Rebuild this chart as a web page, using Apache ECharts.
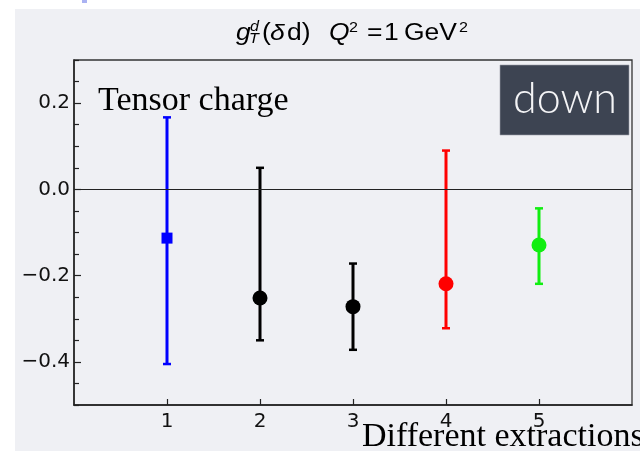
<!DOCTYPE html>
<html>
<head>
<meta charset="utf-8">
<script src="https://cdn.jsdelivr.net/npm/echarts@6/dist/echarts.min.js"></script>
<style>
  html, body { margin: 0; padding: 0; background: #ffffff; }
  #chart { width: 640px; height: 451px; }
</style>
</head>
<body>
<div id="chart"></div>
<script>
// values
const extractions = [1, 2, 3, 4, 5];
const centralValues = [-0.113, -0.252, -0.272, -0.219, -0.129];
const upperValues = [0.167, 0.050, -0.172, 0.090, -0.044];
const lowerValues = [-0.405, -0.350, -0.372, -0.322, -0.219];

const xTickValues = [1, 2, 3, 4, 5];
const yTickValues = [-0.4, -0.2, 0, 0.2];

// styles per extraction
const pointColors = ['#0000ff', '#000000', '#000000', '#ff0000', '#11ee11'];
const pointSymbols = ['rect', 'circle', 'circle', 'circle', 'circle'];
const pointSizes = [11, 15, 15, 15, 15];

const AXIS_COLOR = '#222';
const LABEL_COLOR = '#111';

// minor tick positions every 0.05 (axis layout only)
const yMinorTicks = [];
for (let k = -10; k <= 6; k++) {
  const v = Math.round(k * 5) / 100;
  if (Math.round(k * 5) % 20 !== 0) yMinorTicks.push(v);
}

const fmtY = (v) => {
  const r = Math.round(v * 10) / 10;
  if (r === 0) return '0.0';
  return (r < 0 ? '\u2212' : '') + Math.abs(r).toFixed(1);
};

const chart = echarts.init(document.getElementById('chart'));

const titleText = (text, x, y, size, italic) => ({
  type: 'text',
  x: x,
  y: y,
  scaleX: 1.15,
  style: {
    text: text,
    fill: '#000',
    font: (italic ? 'italic ' : '') + size + 'px "Liberation Sans", Arial, sans-serif',
    textAlign: 'left',
    textVerticalAlign: 'middle'
  },
  silent: true
});

const option = {
  backgroundColor: '#ffffff',
  animation: false,
  grid: {
    left: 74,
    right: 8,
    top: 60,
    bottom: 46,
    show: true,
    borderColor: '#333',
    borderWidth: 1.3,
    backgroundColor: 'transparent'
  },
  xAxis: {
    type: 'value',
    min: 0,
    max: 6,
    axisLine: { show: true, onZero: false, lineStyle: { color: AXIS_COLOR, width: 1.5 } },
    axisTick: { show: true, inside: true, length: 6, customValues: xTickValues, lineStyle: { color: AXIS_COLOR, width: 1.2 } },
    axisLabel: {
      customValues: xTickValues,
      margin: 7,
      color: LABEL_COLOR,
      fontFamily: '"DejaVu Sans", sans-serif',
      fontSize: 20
    },
    splitLine: { show: false }
  },
  yAxis: [
    {
      type: 'value',
      min: -0.5,
      max: 0.3,
      axisLine: { show: true, onZero: false, lineStyle: { color: AXIS_COLOR, width: 1.5 } },
      axisTick: { show: true, inside: true, length: 7, customValues: yTickValues, lineStyle: { color: AXIS_COLOR, width: 1.2 } },
      axisLabel: {
        customValues: yTickValues,
        formatter: fmtY,
        margin: 4,
        color: LABEL_COLOR,
        fontFamily: '"DejaVu Sans", sans-serif',
        fontSize: 20
      },
      splitLine: { show: false }
    },
    {
      type: 'value',
      min: -0.5,
      max: 0.3,
      position: 'left',
      axisLine: { show: false },
      axisTick: { show: true, inside: true, length: 5, customValues: yMinorTicks, lineStyle: { color: AXIS_COLOR, width: 1.2 } },
      axisLabel: { show: false },
      splitLine: { show: false }
    }
  ],
  graphic: {
    elements: [
      // light panel behind the plot
      { type: 'rect', shape: { x: 15, y: 9, width: 640, height: 460 }, style: { fill: '#eff0f4' }, z: -10, silent: true },
      { type: 'rect', shape: { x: 82, y: 0, width: 5, height: 3 }, style: { fill: '#aab2f2' }, z: -9, silent: true },
      // title: g_T^d (δd)  Q^2 = 1 GeV^2
      titleText('g', 236, 34, 23, true),
      titleText('d', 250, 27, 14, true),
      titleText('T', 249, 39, 14, true),
      titleText('(', 262, 34, 23, false),
      titleText('\u03b4', 270, 34, 23, true),
      titleText('d)', 287, 34, 23, false),
      titleText('Q', 329, 34, 23, true),
      titleText('2', 349, 28, 14, false),
      titleText('=', 367, 34, 23, false),
      titleText('1', 384, 34, 23, false),
      titleText('GeV', 404, 34, 23, false),
      titleText('2', 459, 28, 14, false),
      // annotations
      {
        type: 'text', x: 98, y: 101,
        style: { text: 'Tensor charge', fill: '#000', font: '34px "Liberation Serif", "Times New Roman", serif', textVerticalAlign: 'middle' },
        silent: true
      },
      {
        type: 'text', x: 362, y: 437,
        style: { text: 'Different extractions', fill: '#000', font: '34px "Liberation Serif", "Times New Roman", serif', textVerticalAlign: 'middle' },
        silent: true
      },
      {
        type: 'rect', shape: { x: 500, y: 65, width: 129, height: 70 },
        style: { fill: '#3d4452', stroke: '#9aa0a8', lineWidth: 0.6 }, silent: true
      },
      {
        type: 'text', x: 565, y: 99,
        style: { text: 'down', fill: '#f4f4f6', font: '300 43px Lato, "Open Sans", sans-serif', textAlign: 'center', textVerticalAlign: 'middle' },
        silent: true
      }
    ]
  },
  series: [
    {
      type: 'custom',
      name: 'error',
      z: 2,
      data: extractions.map((x, i) => [x, lowerValues[i], upperValues[i]]),
      renderItem: (params, api) => {
        const idx = params.dataIndex;
        const color = pointColors[idx];
        const lo = api.coord([api.value(0), api.value(1)]);
        const hi = api.coord([api.value(0), api.value(2)]);
        const cap = 4;
        return {
          type: 'group',
          children: [
            { type: 'line', shape: { x1: hi[0], y1: hi[1], x2: lo[0], y2: lo[1] }, style: { stroke: color, lineWidth: 3 } },
            { type: 'line', shape: { x1: hi[0] - cap, y1: hi[1], x2: hi[0] + cap, y2: hi[1] }, style: { stroke: color, lineWidth: 2.5 } },
            { type: 'line', shape: { x1: lo[0] - cap, y1: lo[1], x2: lo[0] + cap, y2: lo[1] }, style: { stroke: color, lineWidth: 2.5 } }
          ]
        };
      }
    },
    {
      type: 'scatter',
      name: 'central',
      z: 3,
      data: extractions.map((x, i) => ({
        value: [x, centralValues[i]],
        symbol: pointSymbols[i],
        symbolSize: pointSizes[i],
        itemStyle: { color: pointColors[i], opacity: 1 }
      })),
      markLine: {
        silent: true,
        symbol: 'none',
        label: { show: false },
        lineStyle: { color: AXIS_COLOR, width: 1.2, type: 'solid' },
        data: [{ yAxis: 0 }]
      }
    }
  ]
};

chart.setOption(option);
</script>
</body>
</html>
